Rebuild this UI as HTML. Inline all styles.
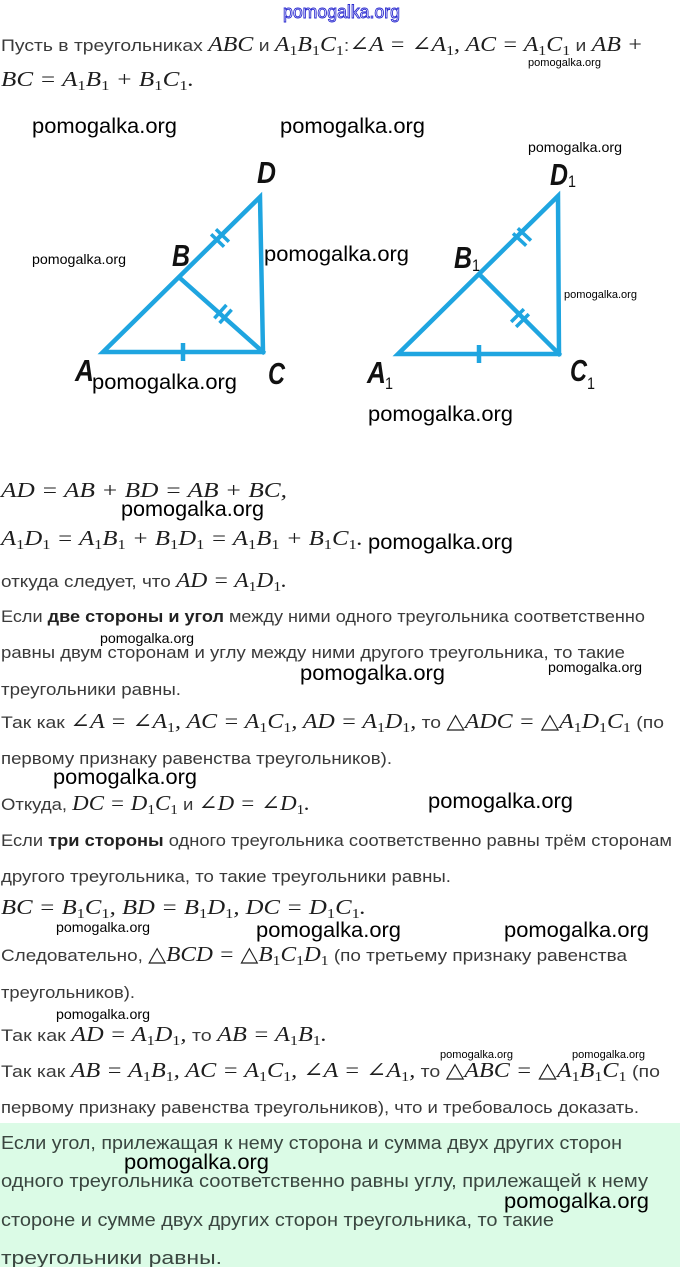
<!DOCTYPE html>
<html>
<head>
<meta charset="utf-8">
<style>
html,body{margin:0;padding:0;background:#fff;}
svg{display:block;}
.t{font-family:"Liberation Sans",sans-serif;font-size:17px;fill:#3a3a3a;font-style:normal;font-weight:normal;}
.b{font-family:"Liberation Sans",sans-serif;font-size:17px;fill:#222;font-weight:bold;font-style:normal;}
.m{font-family:"Liberation Serif","DejaVu Serif",serif;font-style:italic;font-size:21px;fill:#1e1e1e;}
.s{font-size:14px;font-style:normal;baseline-shift:-4px;}
.g{font-family:"Liberation Sans",sans-serif;font-size:18px;fill:#3a4640;}
.wl{font-family:"Liberation Sans",sans-serif;font-size:21px;fill:#000;}
.ws{font-family:"Liberation Sans",sans-serif;font-size:14px;fill:#000;}
.wt{font-family:"Liberation Sans",sans-serif;font-size:11px;fill:#000;}
.lab{font-family:"Liberation Sans",sans-serif;font-weight:bold;font-style:italic;font-size:31px;fill:#111;}
.lab1{font-family:"Liberation Sans",sans-serif;font-size:17px;fill:#111;}
</style>
</head>
<body>
<svg width="680" height="1267" viewBox="0 0 680 1267" xmlns="http://www.w3.org/2000/svg">
<rect x="0" y="0" width="680" height="1267" fill="#fff"/>
<rect x="0" y="1123" width="680" height="144" fill="#dbfbe6"/>

<!-- top outlined watermark -->
<text x="283" y="18" textLength="117" lengthAdjust="spacingAndGlyphs" style="font-family:'Liberation Sans',sans-serif;font-size:18px;fill:#fff;stroke:#2b2bd0;stroke-width:0.9px;">pomogalka.org</text>

<!-- Text lines -->
<text x="1" y="51" textLength="642" lengthAdjust="spacingAndGlyphs"><tspan class="t">Пусть в треугольниках </tspan><tspan class="m">ABC</tspan><tspan class="t"> и </tspan><tspan class="m">A<tspan class="s">1</tspan>B<tspan class="s">1</tspan>C<tspan class="s">1</tspan></tspan><tspan class="t">:</tspan><tspan class="m">∠A = ∠A<tspan class="s">1</tspan>, AC = A<tspan class="s">1</tspan>C<tspan class="s">1</tspan></tspan><tspan class="t"> и </tspan><tspan class="m">AB +</tspan></text>

<text x="1" y="86" textLength="193" lengthAdjust="spacingAndGlyphs"><tspan class="m">BC = A<tspan class="s">1</tspan>B<tspan class="s">1</tspan> + B<tspan class="s">1</tspan>C<tspan class="s">1</tspan>.</tspan></text>

<text x="1" y="497" textLength="286" lengthAdjust="spacingAndGlyphs"><tspan class="m">AD = AB + BD = AB + BC,</tspan></text>

<text x="1" y="545" textLength="362" lengthAdjust="spacingAndGlyphs"><tspan class="m">A<tspan class="s">1</tspan>D<tspan class="s">1</tspan> = A<tspan class="s">1</tspan>B<tspan class="s">1</tspan> + B<tspan class="s">1</tspan>D<tspan class="s">1</tspan> = A<tspan class="s">1</tspan>B<tspan class="s">1</tspan> + B<tspan class="s">1</tspan>C<tspan class="s">1</tspan>.</tspan></text>

<text x="1" y="587" textLength="286" lengthAdjust="spacingAndGlyphs"><tspan class="t">откуда следует, что </tspan><tspan class="m">AD = A<tspan class="s">1</tspan>D<tspan class="s">1</tspan>.</tspan></text>

<text x="1" y="622" textLength="644" lengthAdjust="spacingAndGlyphs"><tspan class="t">Если </tspan><tspan class="b">две стороны и угол</tspan><tspan class="t"> между ними одного треугольника соответственно</tspan></text>

<text x="1" y="658" textLength="624" lengthAdjust="spacingAndGlyphs" class="t">равны двум сторонам и углу между ними другого треугольника, то такие</text>

<text x="1" y="695" textLength="180" lengthAdjust="spacingAndGlyphs" class="t">треугольники равны.</text>

<text x="1" y="728" textLength="663" lengthAdjust="spacingAndGlyphs"><tspan class="t">Так как </tspan><tspan class="m">∠A = ∠A<tspan class="s">1</tspan>, AC = A<tspan class="s">1</tspan>C<tspan class="s">1</tspan>, AD = A<tspan class="s">1</tspan>D<tspan class="s">1</tspan>,</tspan><tspan class="t"> то </tspan><tspan class="m">△ADC = △A<tspan class="s">1</tspan>D<tspan class="s">1</tspan>C<tspan class="s">1</tspan></tspan><tspan class="t"> (по</tspan></text>

<text x="1" y="764" textLength="391" lengthAdjust="spacingAndGlyphs" class="t">первому признаку равенства треугольников).</text>

<text x="1" y="810" textLength="309" lengthAdjust="spacingAndGlyphs"><tspan class="t">Откуда, </tspan><tspan class="m">DC = D<tspan class="s">1</tspan>C<tspan class="s">1</tspan></tspan><tspan class="t"> и </tspan><tspan class="m">∠D = ∠D<tspan class="s">1</tspan>.</tspan></text>

<text x="1" y="846" textLength="671" lengthAdjust="spacingAndGlyphs"><tspan class="t">Если </tspan><tspan class="b">три стороны</tspan><tspan class="t"> одного треугольника соответственно равны трём сторонам</tspan></text>

<text x="1" y="882" textLength="450" lengthAdjust="spacingAndGlyphs" class="t">другого треугольника, то такие треугольники равны.</text>

<text x="1" y="914" textLength="365" lengthAdjust="spacingAndGlyphs"><tspan class="m">BC = B<tspan class="s">1</tspan>C<tspan class="s">1</tspan>, BD = B<tspan class="s">1</tspan>D<tspan class="s">1</tspan>, DC = D<tspan class="s">1</tspan>C<tspan class="s">1</tspan>.</tspan></text>

<text x="1" y="961" textLength="626" lengthAdjust="spacingAndGlyphs"><tspan class="t">Следовательно, </tspan><tspan class="m">△BCD = △B<tspan class="s">1</tspan>C<tspan class="s">1</tspan>D<tspan class="s">1</tspan></tspan><tspan class="t"> (по третьему признаку равенства</tspan></text>

<text x="1" y="998" textLength="134" lengthAdjust="spacingAndGlyphs" class="t">треугольников).</text>

<text x="1" y="1041" textLength="326" lengthAdjust="spacingAndGlyphs"><tspan class="t">Так как </tspan><tspan class="m">AD = A<tspan class="s">1</tspan>D<tspan class="s">1</tspan>,</tspan><tspan class="t"> то </tspan><tspan class="m">AB = A<tspan class="s">1</tspan>B<tspan class="s">1</tspan>.</tspan></text>

<text x="1" y="1077" textLength="659" lengthAdjust="spacingAndGlyphs"><tspan class="t">Так как </tspan><tspan class="m">AB = A<tspan class="s">1</tspan>B<tspan class="s">1</tspan>, AC = A<tspan class="s">1</tspan>C<tspan class="s">1</tspan>, ∠A = ∠A<tspan class="s">1</tspan>,</tspan><tspan class="t"> то </tspan><tspan class="m">△ABC = △A<tspan class="s">1</tspan>B<tspan class="s">1</tspan>C<tspan class="s">1</tspan></tspan><tspan class="t"> (по</tspan></text>

<text x="1" y="1113" textLength="638" lengthAdjust="spacingAndGlyphs" class="t">первому признаку равенства треугольников), что и требовалось доказать.</text>

<!-- green box text -->
<text x="1" y="1149" textLength="621" lengthAdjust="spacingAndGlyphs" class="g">Если угол, прилежащая к нему сторона и сумма двух других сторон</text>
<text x="1" y="1187" textLength="647" lengthAdjust="spacingAndGlyphs" class="g">одного треугольника соответственно равны углу, прилежащей к нему</text>
<text x="1" y="1226" textLength="553" lengthAdjust="spacingAndGlyphs" class="g">стороне и сумме двух других сторон треугольника, то такие</text>
<text x="1" y="1264" textLength="221" lengthAdjust="spacingAndGlyphs" class="g">треугольники равны.</text>

<!-- Triangles -->
<g stroke="#1fa5e0" stroke-width="4.5" fill="none" stroke-linejoin="miter" stroke-linecap="square">
  <polygon points="103,352 263,352 260,197"/>
  <line x1="181" y1="279" x2="263" y2="352"/>
  <line x1="183" y1="343" x2="183" y2="361" stroke-linecap="butt"/>
  <g transform="translate(220,238) rotate(-46)" stroke-linecap="butt" stroke-width="3.5">
    <line x1="-3.5" y1="-9" x2="-3.5" y2="9"/><line x1="3.5" y1="-9" x2="3.5" y2="9"/>
  </g>
  <g transform="translate(223,314) rotate(42)" stroke-linecap="butt" stroke-width="3.5">
    <line x1="-3.5" y1="-9" x2="-3.5" y2="9"/><line x1="3.5" y1="-9" x2="3.5" y2="9"/>
  </g>

  <polygon points="398,354 559,354 558,196"/>
  <line x1="482" y1="277" x2="559" y2="354"/>
  <line x1="479" y1="345" x2="479" y2="363" stroke-linecap="butt"/>
  <g transform="translate(522,237) rotate(-47)" stroke-linecap="butt" stroke-width="3.5">
    <line x1="-3.5" y1="-9" x2="-3.5" y2="9"/><line x1="3.5" y1="-9" x2="3.5" y2="9"/>
  </g>
  <g transform="translate(520,318) rotate(45)" stroke-linecap="butt" stroke-width="3.5">
    <line x1="-3.5" y1="-9" x2="-3.5" y2="9"/><line x1="3.5" y1="-9" x2="3.5" y2="9"/>
  </g>
</g>

<!-- vertex labels -->
<text class="lab" x="257" y="183" textLength="19" lengthAdjust="spacingAndGlyphs">D</text>
<text class="lab" x="172" y="266" textLength="18" lengthAdjust="spacingAndGlyphs">B</text>
<text class="lab" x="75" y="381" textLength="19" lengthAdjust="spacingAndGlyphs">A</text>
<text class="lab" x="268" y="384" textLength="17" lengthAdjust="spacingAndGlyphs">C</text>

<text class="lab" x="550" y="185" textLength="18" lengthAdjust="spacingAndGlyphs">D</text>
<text class="lab1" x="568" y="187" textLength="8" lengthAdjust="spacingAndGlyphs">1</text>
<text class="lab" x="454" y="268" textLength="18" lengthAdjust="spacingAndGlyphs">B</text>
<text class="lab1" x="472" y="271" textLength="8" lengthAdjust="spacingAndGlyphs">1</text>
<text class="lab" x="367" y="383" textLength="19" lengthAdjust="spacingAndGlyphs">A</text>
<text class="lab1" x="385" y="389" textLength="8" lengthAdjust="spacingAndGlyphs">1</text>
<text class="lab" x="570" y="381" textLength="17" lengthAdjust="spacingAndGlyphs">C</text>
<text class="lab1" x="587" y="389" textLength="8" lengthAdjust="spacingAndGlyphs">1</text>

<!-- watermarks large -->
<text class="wl" x="32" y="133" textLength="145" lengthAdjust="spacingAndGlyphs">pomogalka.org</text>
<text class="wl" x="280" y="133" textLength="145" lengthAdjust="spacingAndGlyphs">pomogalka.org</text>
<text class="wl" x="264" y="261" textLength="145" lengthAdjust="spacingAndGlyphs">pomogalka.org</text>
<text class="wl" x="92" y="389" textLength="145" lengthAdjust="spacingAndGlyphs">pomogalka.org</text>
<text class="wl" x="368" y="421" textLength="145" lengthAdjust="spacingAndGlyphs">pomogalka.org</text>
<text class="wl" x="121" y="516" textLength="143" lengthAdjust="spacingAndGlyphs">pomogalka.org</text>
<text class="wl" x="368" y="549" textLength="145" lengthAdjust="spacingAndGlyphs">pomogalka.org</text>
<text class="wl" x="300" y="680" textLength="145" lengthAdjust="spacingAndGlyphs">pomogalka.org</text>
<text class="wl" x="53" y="784" textLength="144" lengthAdjust="spacingAndGlyphs">pomogalka.org</text>
<text class="wl" x="428" y="808" textLength="145" lengthAdjust="spacingAndGlyphs">pomogalka.org</text>
<text class="wl" x="256" y="937" textLength="145" lengthAdjust="spacingAndGlyphs">pomogalka.org</text>
<text class="wl" x="504" y="937" textLength="145" lengthAdjust="spacingAndGlyphs">pomogalka.org</text>
<text class="wl" x="124" y="1169" textLength="145" lengthAdjust="spacingAndGlyphs">pomogalka.org</text>
<text class="wl" x="504" y="1208" textLength="145" lengthAdjust="spacingAndGlyphs">pomogalka.org</text>
<!-- watermarks small -->
<text class="ws" x="528" y="152" textLength="94" lengthAdjust="spacingAndGlyphs">pomogalka.org</text>
<text class="ws" x="32" y="264" textLength="94" lengthAdjust="spacingAndGlyphs">pomogalka.org</text>
<text class="ws" x="100" y="643" textLength="94" lengthAdjust="spacingAndGlyphs">pomogalka.org</text>
<text class="ws" x="548" y="672" textLength="94" lengthAdjust="spacingAndGlyphs">pomogalka.org</text>
<text class="ws" x="56" y="932" textLength="94" lengthAdjust="spacingAndGlyphs">pomogalka.org</text>
<text class="ws" x="56" y="1019" textLength="94" lengthAdjust="spacingAndGlyphs">pomogalka.org</text>
<!-- tiny -->
<text class="wt" x="528" y="66" textLength="73" lengthAdjust="spacingAndGlyphs">pomogalka.org</text>
<text class="wt" x="564" y="298" textLength="73" lengthAdjust="spacingAndGlyphs">pomogalka.org</text>
<text class="wt" x="440" y="1058" textLength="73" lengthAdjust="spacingAndGlyphs">pomogalka.org</text>
<text class="wt" x="572" y="1058" textLength="73" lengthAdjust="spacingAndGlyphs">pomogalka.org</text>
</svg>
</body>
</html>
